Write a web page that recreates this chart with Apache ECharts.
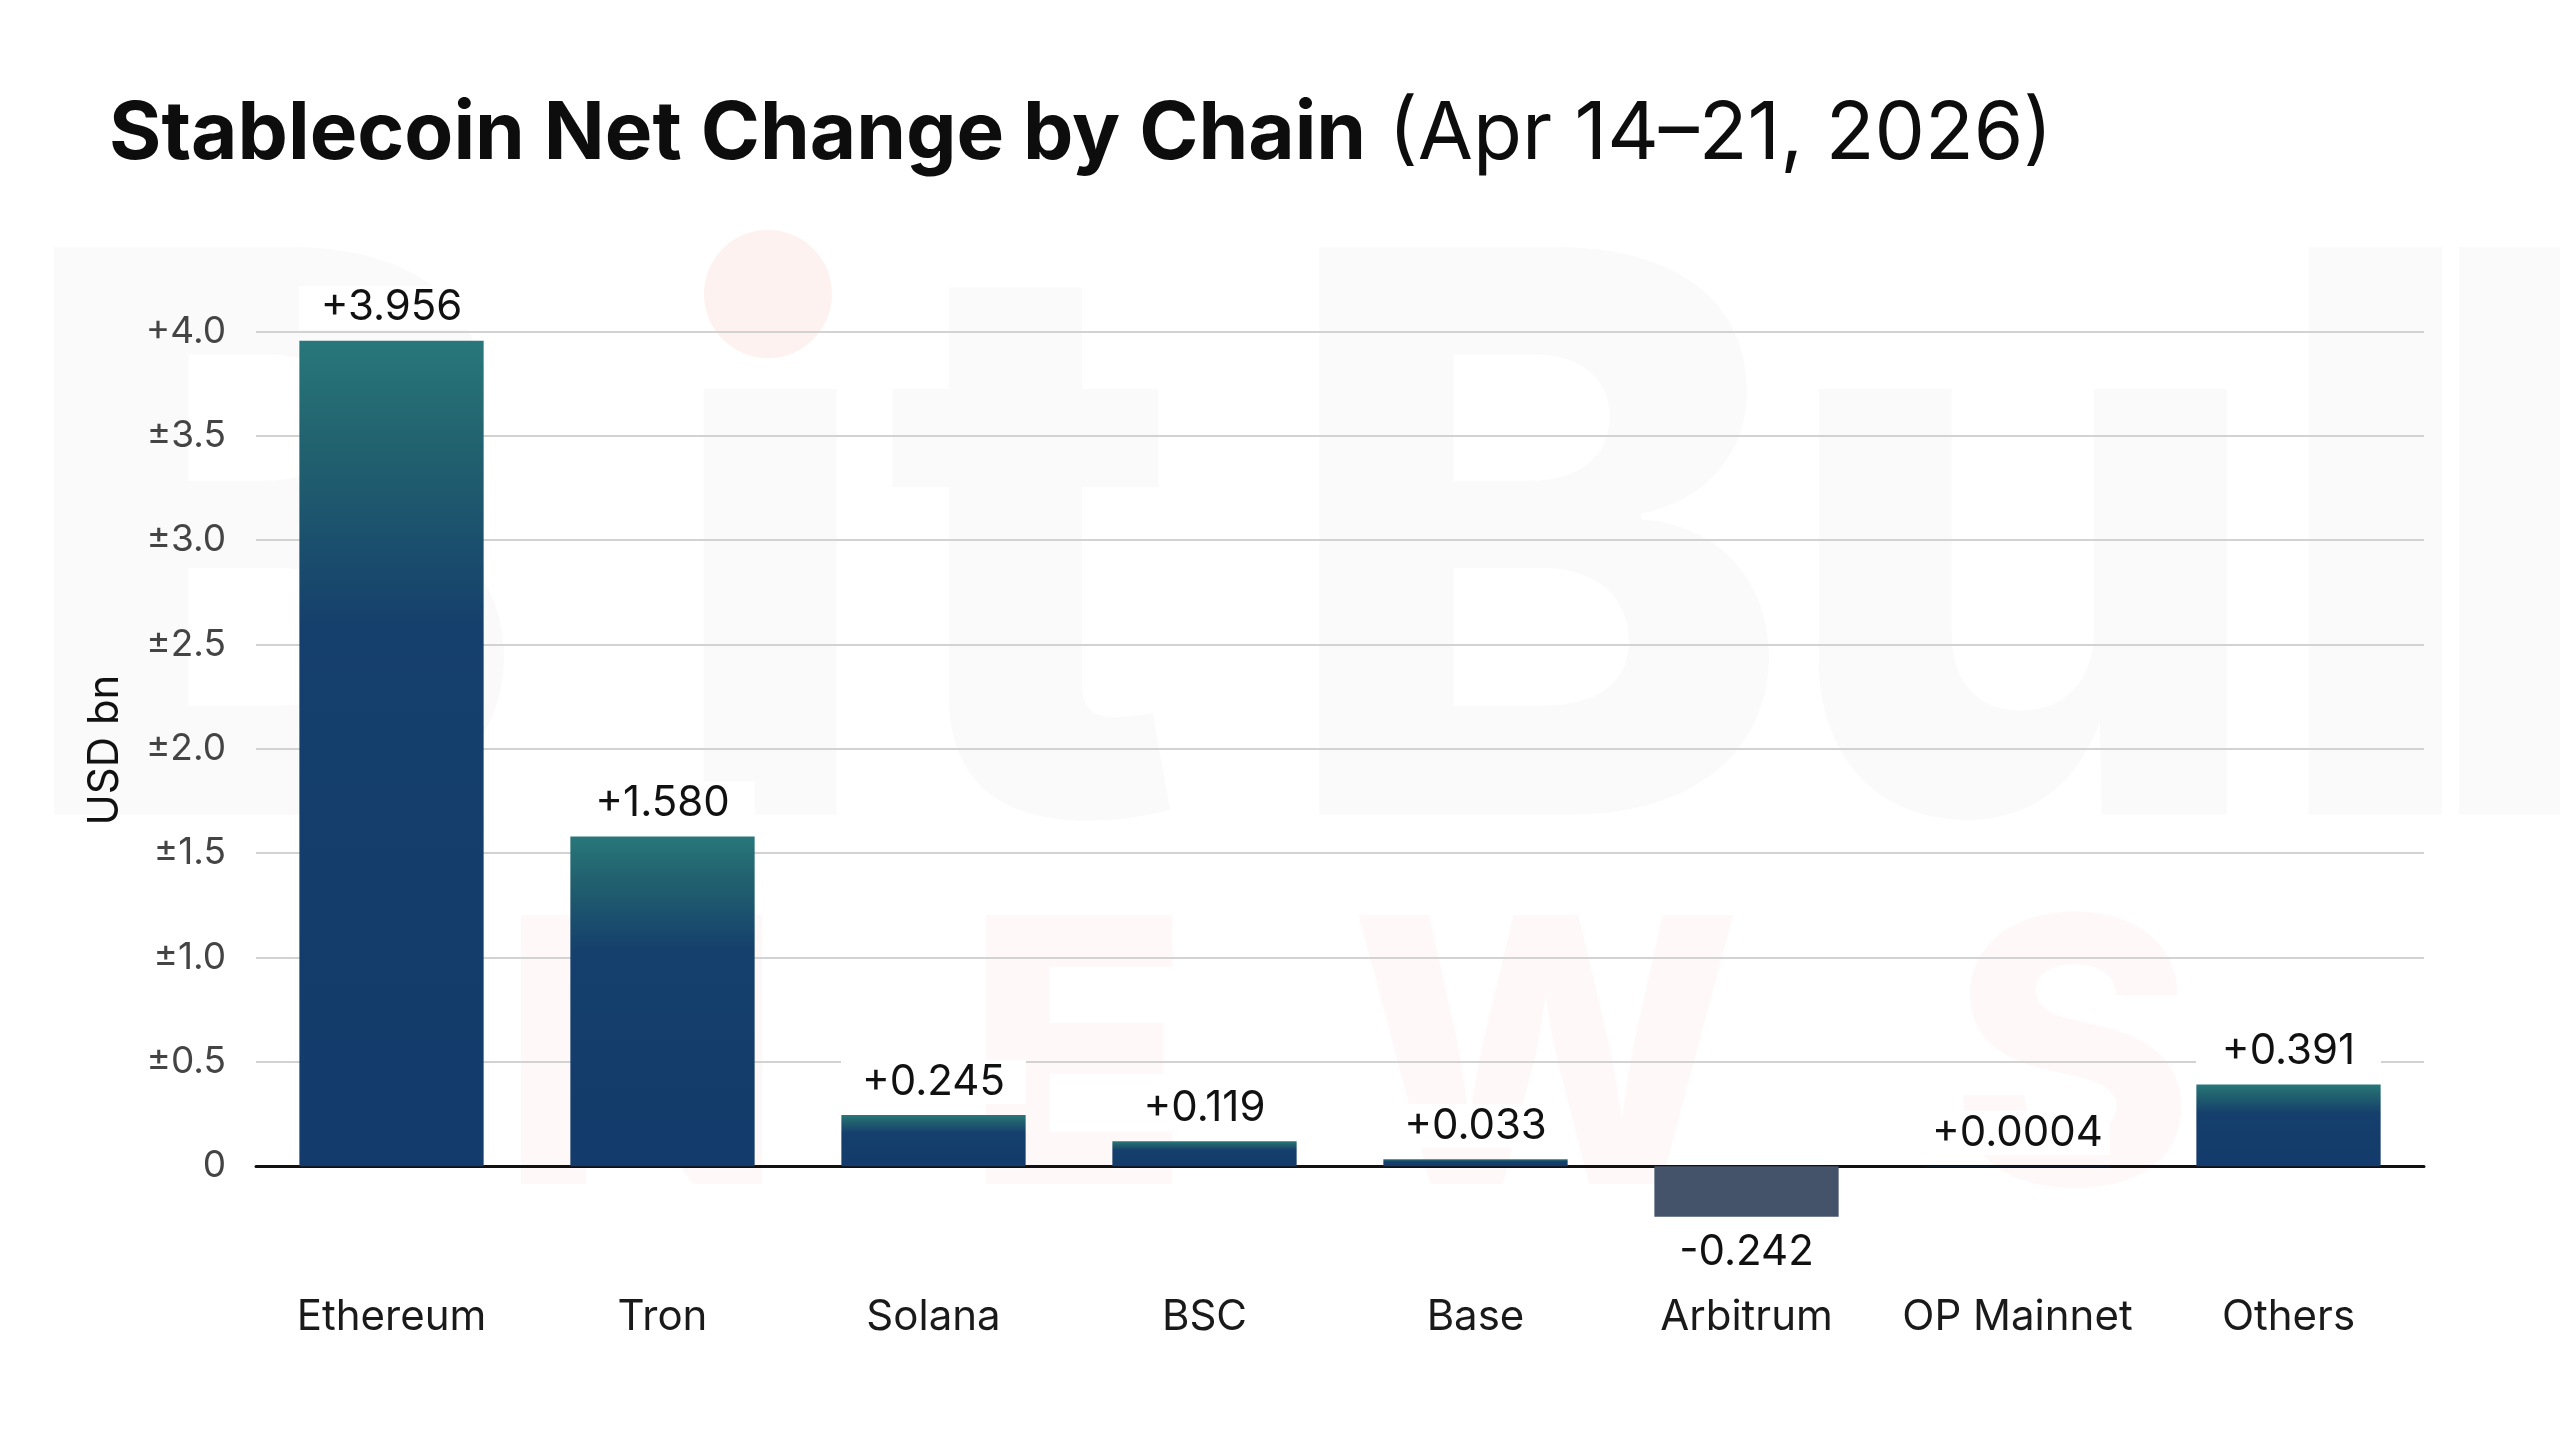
<!DOCTYPE html>
<html>
<head>
<meta charset="utf-8">
<script src="https://cdn.jsdelivr.net/npm/echarts@6/dist/echarts.min.js"></script>
<style>
html,body{margin:0;padding:0;background:#ffffff;}
#chart{width:2560px;height:1429px;}
</style>
</head>
<body>
<div id="chart"></div>
<script>
const categories = ['Ethereum', 'Tron', 'Solana', 'BSC', 'Base', 'Arbitrum', 'OP Mainnet', 'Others'];
const netChange = [3.956, 1.580, 0.245, 0.119, 0.033, -0.242, 0.0004, 0.391];
const valueLabels = ['+3.956', '+1.580', '+0.245', '+0.119', '+0.033', '-0.242', '+0.0004', '+0.391'];
const yTickValues = [-0.5, 0, 0.5, 1.0, 1.5, 2.0, 2.5, 3.0, 3.5, 4.0];
const yTickLabels = ['', '0', '±0.5', '±1.0', '±1.5', '±2.0', '±2.5', '±3.0', '±3.5', '+4.0'];

const FONT = 'Inter';
const posGradient = new echarts.graphic.LinearGradient(0, 0, 0, 1, [
  {offset: 0, color: '#28777b'},
  {offset: 0.12, color: '#22636f'},
  {offset: 0.35, color: '#153f6c'},
  {offset: 1, color: '#133b6b'}
]);

const chart = echarts.init(document.getElementById('chart'), null, {renderer: 'canvas'});

const seriesData = netChange.map((v, i) => {
  const neg = v < 0;
  return {
    value: v,
    itemStyle: {color: neg ? '#45536a' : posGradient},
    label: {
      show: true,
      position: neg ? 'bottom' : 'top',
      distance: neg ? 14 : 11,
      formatter: valueLabels[i],
      fontFamily: FONT,
      fontSize: 42,
      color: '#111111',
      backgroundColor: '#ffffff',
      width: 185,
      height: 44,
      lineHeight: 44,
      align: 'center'
    }
  };
});

const splitColors = yTickValues.map(v => v === -0.5 ? 'rgba(0,0,0,0)' : '#d2d2d2');

const wmGrey = '#fafafa';
const wmPink = '#fef9f8';
function wmLetter(ch, x, top, size, fill) {
  return {type: 'text', z: -10, silent: true, x: x, y: top,
    style: {text: ch, font: '800 ' + size + 'px Inter', fill: fill, align: 'left', verticalAlign: 'top'}};
}

chart.setOption({
  backgroundColor: '#ffffff',
  animation: false,
  title: {
    left: 104,
    top: 88,
    text: '{b|Stablecoin Net Change by Chain}{r| (Apr 14–21, 2026)}',
    textStyle: {
      rich: {
        b: {fontFamily: FONT, fontWeight: 'bold', fontSize: 80, color: '#0d0d0d', lineHeight: 84},
        r: {fontFamily: FONT, fontWeight: 'normal', fontSize: 80, color: '#0d0d0d', lineHeight: 84}
      }
    }
  },
  graphic: [
    wmLetter('B', 10, 190, 780, wmGrey),
    wmLetter('ı', 660, 190, 780, wmGrey),
    wmLetter('t', 885, 190, 780, wmGrey),
    wmLetter('B', 1275, 190, 780, wmGrey),
    wmLetter('u', 1775, 190, 780, wmGrey),
    wmLetter('l', 2265, 190, 780, wmGrey),
    wmLetter('l', 2415, 190, 780, wmGrey),
    {type: 'circle', z: -9, silent: true, shape: {cx: 768, cy: 294, r: 64}, style: {fill: '#fdf2f0'}},
    wmLetter('N', 500, 888, 370, wmPink),
    wmLetter('E', 965, 888, 370, wmPink),
    wmLetter('W', 1350, 888, 370, wmPink),
    wmLetter('S', 1950, 888, 370, wmPink),
    {type: 'text', silent: true, rotation: Math.PI / 2, x: 105, y: 750,
      style: {text: 'USD bn', font: '42px Inter', fill: '#111111', align: 'center', verticalAlign: 'middle'}}
  ],
  grid: {left: 256, right: 136, top: 331.5, bottom: 158.5, containLabel: false, outerBoundsMode: 'none'},
  xAxis: {
    type: 'category',
    data: categories,
    axisLine: {show: true, onZero: true, lineStyle: {color: '#111111', width: 3}},
    axisTick: {show: false},
    axisLabel: {margin: 26, fontFamily: FONT, fontSize: 42, color: '#1a1a1a', interval: 0},
    splitLine: {show: false}
  },
  yAxis: {
    type: 'value',
    min: -0.5,
    max: 4.0,
    interval: 0.5,
    axisLine: {show: false},
    axisTick: {show: false},
    axisLabel: {
      margin: 30,
      fontFamily: FONT,
      fontSize: 37,
      color: '#444444',
      formatter: function (v) {
        const idx = yTickValues.findIndex(t => Math.abs(t - v) < 1e-6);
        return idx >= 0 ? yTickLabels[idx] : '';
      }
    },
    splitLine: {show: true, lineStyle: {color: splitColors, width: 2}}
  },
  series: [{
    type: 'bar',
    data: seriesData,
    barWidth: '68%',
    z: 2
  }]
});
</script>
</body>
</html>
